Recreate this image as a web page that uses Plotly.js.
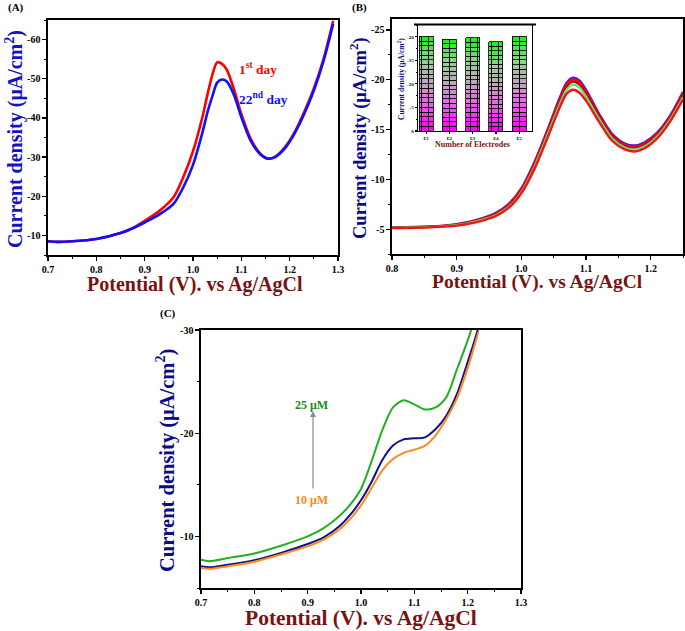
<!DOCTYPE html>
<html>
<head>
<meta charset="utf-8">
<script src="https://cdn.plot.ly/plotly-3.0.1.min.js"></script>
<style>html,body{margin:0;padding:0;background:#fff;}#chart{width:685px;height:631px;}</style>
</head>
<body>
<div id="chart"></div>
<script>
// ---------- Panel A data ----------
const aX = [0.7,0.72,0.75,0.8,0.85,0.88,0.9,0.93,0.96,0.98,1.0,1.02,1.03,1.04,1.05,1.06,1.07,1.085,1.1,1.12,1.14,1.155,1.17,1.19,1.21,1.23,1.25,1.27,1.29];
const aDay1 = [-8.5,-8.35,-8.5,-9.1,-10.6,-12.2,-13.7,-16.2,-19.8,-24.9,-31.5,-40.5,-46,-51,-54.2,-53.8,-52.3,-47.2,-41,-34.5,-30.8,-29.6,-30.1,-32.5,-36.3,-41.5,-47.5,-55,-64.8];
const aDay22 = [-8.5,-8.35,-8.5,-9.1,-10.6,-12.1,-13.3,-15.3,-18.1,-22.3,-28.0,-36.5,-41.5,-45.5,-49.0,-49.8,-49.3,-45.8,-40.2,-34.0,-30.6,-29.6,-30.0,-32.2,-36.0,-41.0,-47.0,-54.5,-64.0];
const aXTicks = [0.7,0.8,0.9,1.0,1.1,1.2,1.3];
const aYTicks = [-10,-20,-30,-40,-50,-60];

// ---------- Panel B data ----------
const bX = [0.8,0.82,0.85,0.88,0.9,0.92,0.94,0.96,0.98,1.0,1.02,1.04,1.06,1.07,1.08,1.09,1.1,1.12,1.14,1.16,1.175,1.19,1.21,1.23,1.25];
const bE1 = [-5.2,-5.2,-5.25,-5.35,-5.5,-5.75,-6.1,-6.6,-7.5,-9.1,-11.7,-14.9,-18.3,-19.7,-20.2,-19.9,-19.0,-16.6,-14.6,-13.6,-13.4,-13.7,-14.7,-16.4,-18.8];
const bE2 = [-5.18,-5.18,-5.22,-5.32,-5.46,-5.7,-6.05,-6.52,-7.4,-8.98,-11.55,-14.75,-18.1,-19.5,-20.0,-19.7,-18.8,-16.45,-14.45,-13.45,-13.25,-13.55,-14.55,-16.25,-18.6];
const bE3 = [-5.16,-5.16,-5.2,-5.3,-5.43,-5.66,-6.0,-6.46,-7.3,-8.86,-11.4,-14.6,-17.9,-19.3,-19.8,-19.5,-18.6,-16.3,-14.3,-13.3,-13.1,-13.4,-14.4,-16.1,-18.4];
const bE4 = [-5.14,-5.14,-5.18,-5.28,-5.4,-5.62,-5.95,-6.4,-7.2,-8.75,-11.25,-14.4,-17.65,-19.0,-19.5,-19.2,-18.3,-16.1,-14.15,-13.2,-13.0,-13.3,-14.3,-16.0,-18.25];
const bE5 = [-5.1,-5.1,-5.15,-5.25,-5.35,-5.55,-5.85,-6.3,-7.1,-8.6,-11.0,-14.1,-17.3,-18.6,-19.0,-18.7,-17.9,-15.8,-13.9,-13.0,-12.8,-13.1,-14.1,-15.8,-18.0];
const bXTicks = [0.8,0.9,1.0,1.1,1.2];
const bYTicks = [-5,-10,-15,-20,-25];

// ---------- Inset data ----------
const insetCats = ['E1','E2','E3','E4','E5'];
const insetVals = [-20.1,-19.5,-19.8,-18.9,-20.1];
const insetYTicks = [0,-5,-10,-15,-20];

// ---------- Panel C data ----------
const cX = [0.7,0.715,0.75,0.8,0.85,0.9,0.93,0.96,0.98,1.0,1.02,1.04,1.06,1.08,1.1,1.12,1.14,1.16,1.18,1.2,1.21,1.22];
const c25 = [-7.74,-7.6,-7.9,-8.35,-9.1,-10.0,-10.8,-12.0,-13.1,-14.6,-17.3,-20.3,-22.5,-23.2,-22.8,-22.3,-22.5,-23.5,-26.2,-29.0,-30.6,-33.5];
const cMid = [-7.1,-7.0,-7.25,-7.7,-8.4,-9.26,-9.9,-11.0,-12.1,-13.5,-15.3,-17.4,-18.8,-19.4,-19.5,-19.6,-20.4,-21.7,-23.8,-26.9,-28.5,-30.2];
const c10 = [-6.94,-6.87,-7.1,-7.55,-8.25,-9.03,-9.7,-10.7,-11.7,-13.0,-14.7,-16.4,-17.5,-18.1,-18.4,-18.8,-19.8,-21.4,-23.4,-26.3,-28.0,-29.8];
const cXTicks = [0.7,0.8,0.9,1.0,1.1,1.2,1.3];
const cYTicks = [-10,-20,-30];

// ---------- styling ----------
const FONT = 'Liberation Serif, Times New Roman, serif';
const W = 685, H = 631;
const px = v => v / W;
const py = v => 1 - v / H;

function axis(dom, range, vals, fmt, minorD, tsize, extra) {
  return Object.assign({
    domain: dom, range: range, tickmode: 'array', tickvals: vals,
    ticktext: vals.map(fmt), ticks: 'outside', ticklen: 4, tickwidth: 1.2, tickcolor: '#000',
    minor: {tickmode: 'linear', tick0: 0, dtick: minorD, ticks: 'outside', ticklen: 2.5, tickwidth: 1, tickcolor: '#000', showgrid: false},
    showline: true, mirror: true, linewidth: 1.6, linecolor: '#000',
    showgrid: false, zeroline: false,
    tickfont: {family: FONT, size: tsize, color: '#000', weight: 'bold'}
  }, extra || {});
}
const f1 = v => v.toFixed(1);
const f0 = v => String(v);
const ln = (color, width) => ({color: color, width: width, shape: 'spline', smoothing: 0.8});

const traces = [
  {x: aX, y: aDay1, xaxis: 'x', yaxis: 'y', mode: 'lines', line: ln('#ff0000', 2.6)},
  {x: aX, y: aDay22, xaxis: 'x', yaxis: 'y', mode: 'lines', line: ln('#1010ff', 2.6)},
  {x: bX, y: bE1, xaxis: 'x2', yaxis: 'y2', mode: 'lines', line: ln('#6a10c8', 2.4)},
  {x: bX, y: bE2, xaxis: 'x2', yaxis: 'y2', mode: 'lines', line: ln('#ff0000', 2.2)},
  {x: bX, y: bE3, xaxis: 'x2', yaxis: 'y2', mode: 'lines', line: ln('#d00000', 2.2)},
  {x: bX, y: bE4, xaxis: 'x2', yaxis: 'y2', mode: 'lines', line: ln('#40f080', 2.2)},
  {x: bX, y: bE5, xaxis: 'x2', yaxis: 'y2', mode: 'lines', line: ln('#ff1010', 2.4)},
  {x: cX, y: c25, xaxis: 'x3', yaxis: 'y3', mode: 'lines', line: ln('#22b022', 2)},
  {x: cX, y: cMid, xaxis: 'x3', yaxis: 'y3', mode: 'lines', line: ln('#10108a', 2)},
  {x: cX, y: c10, xaxis: 'x3', yaxis: 'y3', mode: 'lines', line: ln('#ff8a1a', 2)}
];

// inset bars: stacked brick-like segments with magenta -> grey -> green colouring
const keyCols = [[255,0,255],[235,90,235],[190,165,190],[150,205,150],[30,240,30]];
function lerpCol(t) {
  const s = t * (keyCols.length - 1);
  const i = Math.min(Math.floor(s), keyCols.length - 2);
  const f = s - i;
  const c = keyCols[i].map((v, k) => Math.round(v + (keyCols[i + 1][k] - v) * f));
  return 'rgb(' + c.join(',') + ')';
}
const NSEG = 20;
for (let s = 0; s < NSEG; s++) {
  const col = lerpCol(s / (NSEG - 1));
  traces.push({
    type: 'bar', x: [1,2,3,4,5], y: insetVals.map(v => v / NSEG), xaxis: 'x4', yaxis: 'y4',
    width: 0.6,
    marker: {color: col, line: {color: '#000', width: 0.8},
             pattern: {shape: '|', size: 7, solidity: 0.15, fgcolor: '#000', bgcolor: col, fillmode: 'replace'}},
    showlegend: false
  });
}

const titleX = 'Potential (V). vs Ag/AgCl';
const titleY = 'Current density (μA/cm<sup>2</sup>)';
const maroon = '#7a1212';

const annotations = [
  // panel labels
  {text: '(A)', x: px(6), y: py(7), xanchor: 'left', font: {family: FONT, size: 11, color: '#000', weight: 'bold'}},
  {text: '(B)', x: px(350), y: py(7), xanchor: 'left', font: {family: FONT, size: 11, color: '#000', weight: 'bold'}},
  {text: '(C)', x: px(158), y: py(313), xanchor: 'left', font: {family: FONT, size: 11, color: '#000', weight: 'bold'}},
  // axis titles
  {text: titleX, x: px(195), y: py(284), font: {family: FONT, size: 20, color: maroon, weight: 'bold'}},
  {text: titleY, x: px(15), y: py(139), textangle: -90, font: {family: FONT, size: 20, color: '#1212c8', weight: 'bold'}},
  {text: titleX, x: px(537), y: py(282), font: {family: FONT, size: 19.5, color: maroon, weight: 'bold'}},
  {text: titleY, x: px(358), y: py(138), textangle: -90, font: {family: FONT, size: 18.5, color: '#0c0c88', weight: 'bold'}},
  {text: titleX, x: px(361), y: py(618), font: {family: FONT, size: 21.5, color: maroon, weight: 'bold'}},
  {text: titleY, x: px(165), y: py(461), textangle: -90, font: {family: FONT, size: 20.5, color: '#0c0c88', weight: 'bold'}},
  // inset titles
  {text: 'Number of Electrodes', x: px(473), y: py(144.5), font: {family: FONT, size: 8, color: maroon, weight: 'bold'}},
  {text: 'Current density (μA/cm<sup>2</sup>)', x: px(401), y: py(79), textangle: -90, font: {family: FONT, size: 7.5, color: '#0c0c88', weight: 'bold'}},
  // series labels A
  {text: '1<sup>st</sup> day', x: px(237), y: py(68), xanchor: 'left', font: {family: FONT, size: 13.5, color: '#ff0000', weight: 'bold'}},
  {text: '22<sup>nd</sup> day', x: px(237), y: py(99), xanchor: 'left', font: {family: FONT, size: 13.5, color: '#1010ff', weight: 'bold'}},
  // panel C labels and arrow
  {text: '25 μM', x: px(311), y: py(405), font: {family: FONT, size: 12, color: '#1a8c1a', weight: 'bold'}},
  {text: '10 μM', x: px(311), y: py(500), font: {family: FONT, size: 12, color: '#ff8a1a', weight: 'bold'}},
  {text: '', x: px(313), y: py(411), ax: px(313), ay: py(490), axref: 'paper', ayref: 'paper', showarrow: true,
   arrowhead: 2, arrowsize: 1, arrowwidth: 1.2, arrowcolor: '#8a8a8a'}
].map(a => Object.assign({xref: 'paper', yref: 'paper', showarrow: false, xanchor: 'center', yanchor: 'middle'}, a));

const layout = {
  width: W, height: H, margin: {l: 0, r: 0, t: 0, b: 0},
  paper_bgcolor: '#fff', plot_bgcolor: 'rgba(0,0,0,0)', showlegend: false,
  barmode: 'stack', bargap: 0,
  xaxis: axis([px(48), px(338)], [0.7, 1.3], aXTicks, f1, 0.05, 10, {anchor: 'y'}),
  yaxis: axis([py(255), py(20)], [-5, -65], aYTicks, f0, 5, 10, {anchor: 'x'}),
  xaxis2: axis([px(392), px(683)], [0.8, 1.25], bXTicks, f1, 0.05, 10, {anchor: 'y2'}),
  yaxis2: axis([py(254), py(19)], [-2.5, -26.1], bYTicks, f0, 2.5, 10, {anchor: 'x2'}),
  xaxis3: axis([px(201), px(521)], [0.7, 1.3], cXTicks, f1, 0.05, 10, {anchor: 'y3'}),
  yaxis3: axis([py(588), py(330)], [-5, -30], cYTicks, f0, 5, 10, {anchor: 'x3'}),
  xaxis4: axis([px(418), px(532)], [0.65, 5.55], [1,2,3,4,5], (v, i) => insetCats[i], 10, 4.5,
               {anchor: 'y4', ticklen: 2, ticklabelstandoff: 0, minor: {ticks: ''}, linewidth: 1.3}),
  yaxis4: axis([py(131), py(25)], [0, -22.5], insetYTicks, f0, 2.5, 5,
               {anchor: 'x4', ticklen: 2, minor: {tickmode: 'linear', tick0: 0, dtick: 2.5, ticks: 'outside', ticklen: 1.2, tickcolor: '#000'}, linewidth: 1.3}),
  annotations: annotations,
  shapes: [
    {type: 'rect', xref: 'paper', yref: 'paper', x0: px(418), x1: px(532), y0: py(131), y1: py(25),
     fillcolor: '#fff', line: {width: 0}, layer: 'below'},
    {type: 'line', xref: 'paper', yref: 'paper', x0: px(414), x1: px(536), y0: py(24.5), y1: py(24.5),
     line: {color: '#000', width: 2}}
  ]
};

Plotly.newPlot('chart', traces, layout, {staticPlot: true, displayModeBar: false});
</script>
</body>
</html>
